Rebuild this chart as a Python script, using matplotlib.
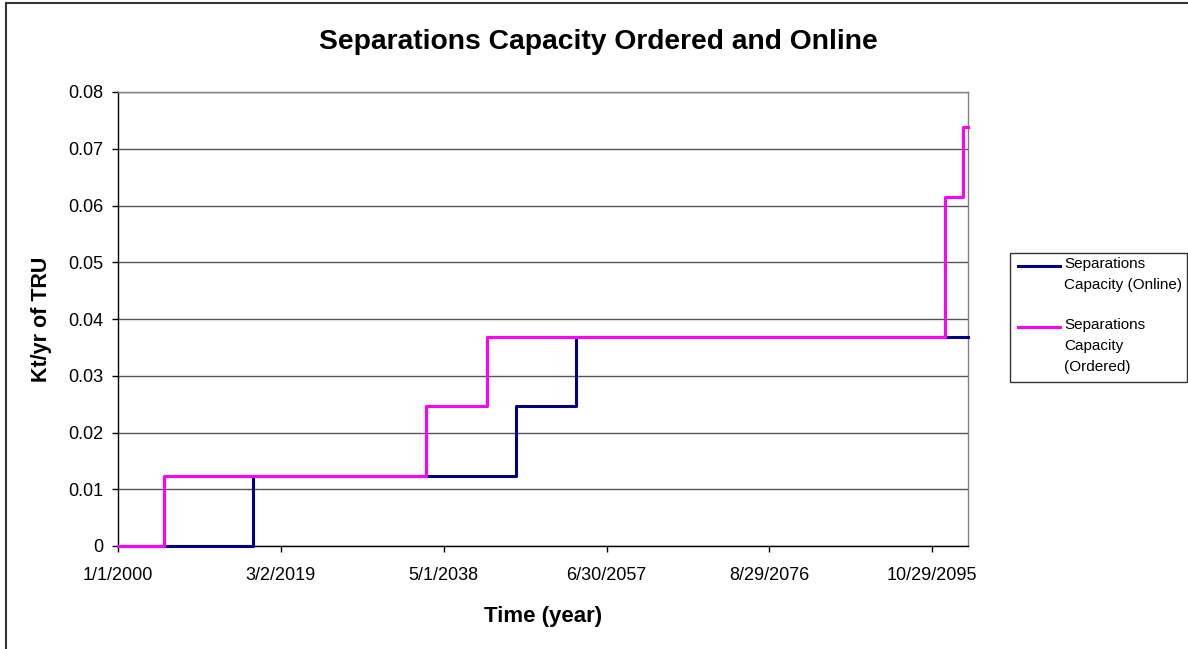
#!/usr/bin/env python3
"""
Separations capacity ordered vs online - step chart (Excel style)
"""

import datetime as dt
import matplotlib
matplotlib.use("Agg")
import matplotlib.pyplot as plt
from matplotlib.lines import Line2D
from matplotlib.patches import Rectangle

plt.rcParams["font.family"] = ["Liberation Sans", "DejaVu Sans"]

# step data (date of change, capacity in Kt/yr of TRU)
online_dates = ["2000-01-01", "2015-11-12", "2046-11-25", "2053-11-20", "2100-01-15"]
online_values = [0.0, 0.0123, 0.0246, 0.0369, 0.0369]

ordered_dates = ["2000-01-01", "2005-05-27", "2036-04-20", "2043-06-25",
                 "2097-05-20", "2099-07-01", "2100-01-15"]
ordered_values = [0.0, 0.0123, 0.0246, 0.0369, 0.0615, 0.0738, 0.0738]

tick_labels = ["1/1/2000", "3/2/2019", "5/1/2038", "6/30/2057", "8/29/2076", "10/29/2095"]
y_ticks = [0, 0.01, 0.02, 0.03, 0.04, 0.05, 0.06, 0.07, 0.08]

NAVY = "#000080"
MAGENTA = "#FF00FF"
W, H = 1188, 649


def to_date(s):
    return dt.datetime.strptime(s, "%Y-%m-%d")


def tick_date(s):
    return dt.datetime.strptime(s, "%m/%d/%Y")


online_x = [to_date(d) for d in online_dates]
ordered_x = [to_date(d) for d in ordered_dates]
tick_x = [tick_date(t) for t in tick_labels]

fig = plt.figure(figsize=(W / 100, H / 100), dpi=100)
ax = fig.add_axes([118 / W, 1 - 546 / H, 850 / W, 454 / H])

ax.step(online_x, online_values, where="post", color=NAVY, lw=2.2,
        zorder=5, clip_on=False)
ax.step(ordered_x, ordered_values, where="post", color=MAGENTA, lw=2.2,
        zorder=6, clip_on=False)

ax.set_xlim(online_x[0], online_x[-1])
ax.set_ylim(0, 0.08)

ax.set_xticks(tick_x)
ax.set_xticklabels(tick_labels)
ax.set_yticks(y_ticks)
ax.set_yticklabels(["0" if v == 0 else f"{v:.2f}" for v in y_ticks])

ax.tick_params(axis="both", direction="out", length=4, width=1,
               labelsize=13, colors="black")
ax.tick_params(axis="x", pad=11)
ax.tick_params(axis="y", pad=6.5)

ax.yaxis.grid(True, color="#555555", lw=1)
ax.set_axisbelow(True)

ax.spines["left"].set_color("black")
ax.spines["bottom"].set_color("black")
ax.spines["top"].set_color("#808080")
ax.spines["right"].set_color("#808080")
for sp in ax.spines.values():
    sp.set_linewidth(1)

fig.text(598 / W, 1 - 42 / H, "Separations Capacity Ordered and Online",
         fontsize=20.3, fontweight="bold", ha="center", va="center")
ax.set_xlabel("Time (year)", fontsize=16, fontweight="bold", labelpad=16)
ax.set_ylabel("Kt/yr of TRU", fontsize=15.5, fontweight="bold")
ax.yaxis.set_label_coords(-66 / 850, 0.5)

# outer chart border
fig.add_artist(Rectangle((6 / W, -0.01), 1.2, 1 - 3 / H + 0.01,
                         transform=fig.transFigure, fill=False,
                         edgecolor="#333333", lw=1.5))

# legend drawn Excel-style (line next to first text line)
fig.add_artist(Rectangle((1010 / W, 1 - 382 / H), 177 / W, 129 / H,
                         transform=fig.transFigure, fill=False,
                         edgecolor="#333333", lw=1))
legend_items = [("Separations\nCapacity (Online)", NAVY, 266),
                ("Separations\nCapacity\n(Ordered)", MAGENTA, 327)]
for label, col, ypx in legend_items:
    fig.add_artist(Line2D([1018 / W, 1060 / W], [1 - ypx / H, 1 - ypx / H],
                          transform=fig.transFigure, color=col, lw=2.2))
    fig.text(1064 / W, 1 - (ypx - 9) / H, label, fontsize=11,
             ha="left", va="top", linespacing=1.62)

fig.savefig("out.png", dpi=100)
